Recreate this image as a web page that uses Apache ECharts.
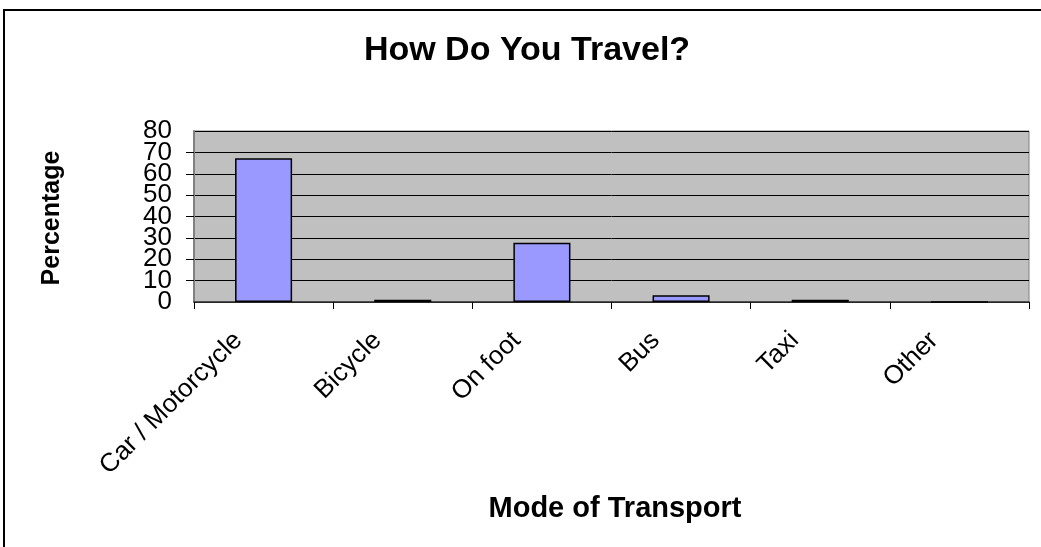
<!DOCTYPE html>
<html>
<head>
<meta charset="utf-8">
<script src="https://cdn.jsdelivr.net/npm/echarts@6/dist/echarts.min.js"></script>
<style>html,body{margin:0;padding:0;background:#fff;}#c{width:1041px;height:547px;}</style>
</head>
<body>
<div id="c"></div>
<script>
const categories = ['Car / Motorcycle', 'Bicycle', 'On foot', 'Bus', 'Taxi', 'Other'];
const percentages = [67.2, 1.1, 27.7, 3.1, 1.1, 0];
const yTicks = { min: 0, max: 80, interval: 10 };
const titleText = 'How Do You Travel?';
const xName = 'Mode of Transport';
const yName = 'Percentage';

const FONT = '"Liberation Sans", Arial, sans-serif';
const yLabelStyle = { fontSize: 26, fontFamily: FONT, color: '#000', margin: 22, hideOverlap: false };
const chart = echarts.init(document.getElementById('c'), null, { renderer: 'canvas' });
chart.setOption({
  animation: false,
  backgroundColor: '#fff',
  grid: {
    left: 194, right: 12, top: 131, bottom: 245,
    show: true, backgroundColor: '#c0c0c0', borderColor: '#808080', borderWidth: 1,
    containLabel: false
  },
  graphic: [
    { type: 'rect', shape: { x: 4, y: 10, width: 1060, height: 560 }, style: { fill: 'none', stroke: '#000', lineWidth: 2 }, z: 100 },
    { type: 'text', x: 527, y: 51, style: { text: titleText, font: 'bold 34px ' + FONT, fill: '#000', textAlign: 'center', textVerticalAlign: 'middle' } },
    { type: 'text', x: 615, y: 509, style: { text: xName, font: 'bold 29px ' + FONT, fill: '#000', textAlign: 'center', textVerticalAlign: 'middle' } },
    { type: 'text', x: 52, y: 218, rotation: Math.PI / 2, style: { text: yName, font: 'bold 25px ' + FONT, fill: '#000', textAlign: 'center', textVerticalAlign: 'middle' } }
  ],
  xAxis: {
    type: 'category',
    data: categories,
    axisLine: { show: true, lineStyle: { color: '#333', width: 1.5 } },
    axisTick: { show: true, alignWithLabel: false, length: 7, lineStyle: { color: '#000' } },
    axisLabel: { interval: 0, rotate: 45, fontSize: 26, fontFamily: FONT, color: '#000', margin: 9, padding: [0, 36, 0, 0] },
    splitLine: { show: false }
  },
  yAxis: [{
    type: 'value',
    min: yTicks.min, max: yTicks.max, interval: yTicks.interval,
    axisLine: { show: true, lineStyle: { color: '#808080', width: 2 } },
    axisTick: { show: true, length: 8, lineStyle: { color: '#000' } },
    axisLabel: Object.assign({ showMinLabel: false, showMaxLabel: false }, yLabelStyle),
    splitLine: { show: true, lineStyle: { color: '#000', width: 1 } }
  }, {
    type: 'value', position: 'left',
    min: yTicks.min, max: yTicks.max, interval: yTicks.interval,
    axisLine: { show: false }, axisTick: { show: false }, splitLine: { show: false },
    axisLabel: Object.assign({
      showMinLabel: true, showMaxLabel: true,
      formatter: v => (v === yTicks.min || v === yTicks.max) ? String(v) : ''
    }, yLabelStyle)
  }],
  series: [{
    type: 'bar',
    data: percentages,
    barWidth: '41%',
    itemStyle: { color: '#9999ff', borderColor: '#000', borderWidth: 1.5 }
  }]
});
</script>
</body>
</html>
